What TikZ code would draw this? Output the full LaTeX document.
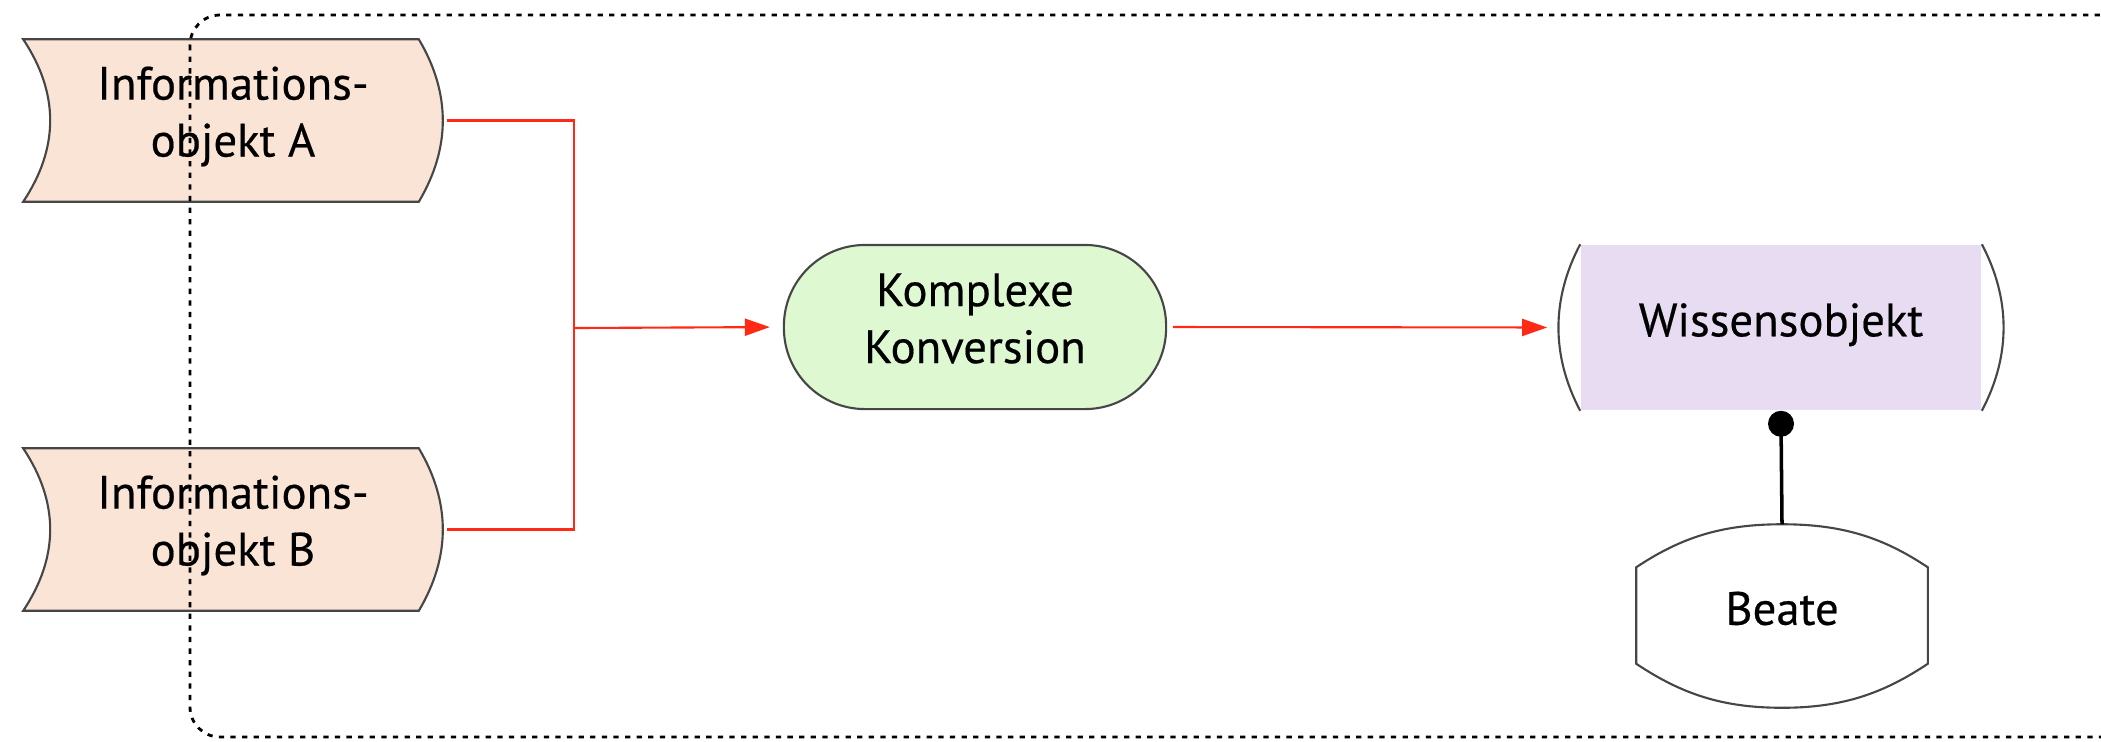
\documentclass[tikz,border=0pt]{standalone}
\usepackage{fontspec}
\setmainfont{PT Sans}[FakeBold=0.4]
\usepackage{tikz}
\usetikzlibrary{arrows.meta}
\usetikzlibrary{backgrounds}

\definecolor{infofill}{RGB}{250,228,214}
\definecolor{konvfill}{RGB}{222,248,210}
\definecolor{wissenfill}{RGB}{232,220,242}
\definecolor{flowred}{RGB}{255,42,22}
\definecolor{shapeline}{RGB}{70,70,70}

\tikzset{
  txt/.style={font=\fontsize{13.3}{16.2}\selectfont, align=center, inner sep=0pt},
  oneline/.style={txt, text height=9.5pt, text depth=4.5pt},
  twolines/.style={txt, text height=25pt, text depth=4.5pt},
  infoobj/.style={twolines, minimum width=4.18cm, minimum height=1.61cm},
  konvbox/.style={twolines, draw=shapeline, line width=0.6pt, fill=konvfill,
    rounded corners=0.81cm, minimum width=3.82cm, minimum height=1.64cm},
  wissenbox/.style={oneline, fill=wissenfill, minimum width=4.0cm, minimum height=1.65cm},
  personbox/.style={oneline, minimum width=2.9cm, minimum height=1.82cm},
  outline/.style={draw=shapeline, line width=0.6pt},
  flowline/.style={draw=flowred, line width=0.6pt},
  flowarrow/.style={flowline, -{Triangle[length=0.25cm,width=0.17cm]}},
}

\begin{document}
\begin{tikzpicture}[x=0.01cm,y=-0.01cm]
        \useasboundingbox (0,0) rectangle (2101,741);
        % objects
        \node[infoobj] (infoA) at (233,120.5) {Informations-\\objekt A};
        \node[infoobj] (infoB) at (233,529.5) {Informations-\\objekt B};
        \node[konvbox] (konv) at (975,327) {Komplexe\\Konversion};
        \node[wissenbox] (wissen) at (1781,327.5) {Wissensobjekt};
        \node[personbox] (beate) at (1782,616) {Beate};
        %%
        \begin{scope}[on background layer]
          \foreach \n in {infoA,infoB}
            \filldraw[outline, fill=infofill] (\n.north west) -- ([xshift=-0.24cm]\n.north east)
              .. controls +(32,54) and +(32,-54) .. ([xshift=-0.24cm]\n.south east)
              -- (\n.south west) .. controls +(36,-54) and +(36,54) .. cycle;
        \end{scope}
        \draw[outline] (wissen.north west) .. controls +(-29,55) and +(-29,-55) .. (wissen.south west);
        \draw[outline] (wissen.north east) .. controls +(29,55) and +(29,-55) .. (wissen.south east);
        \draw[outline] ([yshift=-0.43cm]beate.north west) .. controls +(45,-30) and +(-60,0) .. (beate.north)
          .. controls +(60,0) and +(-45,-30) .. ([yshift=-0.43cm]beate.north east)
          -- ([yshift=0.44cm]beate.south east) .. controls +(-45,30) and +(60,0) .. (beate.south)
          .. controls +(-60,0) and +(45,30) .. ([yshift=0.44cm]beate.south west) -- cycle;
        %%
        % connectors
        \coordinate (join) at (574,328);
        \draw[flowline] ([xshift=0.04cm]infoA.east) -| (join) |- ([xshift=0.04cm]infoB.east);
        \draw[flowarrow, shorten >=0.13cm] (join) -- (konv.west);
        \draw[flowarrow, shorten <=0.06cm, shorten >=0.33cm] (konv.east) -- (wissen.west);
        \coordinate (dot) at ([yshift=-0.13cm]wissen.south);
        \fill (dot) circle[radius=0.13cm];
        \draw[line width=1pt] (dot) -- (beate.north);
        %%
        % frame
        \draw[line width=0.8pt, dash pattern=on 1.5pt off 1.8pt, rounded corners=0.3cm]
          (190,15) rectangle (2140,737);
    \end{tikzpicture}
\end{document}
